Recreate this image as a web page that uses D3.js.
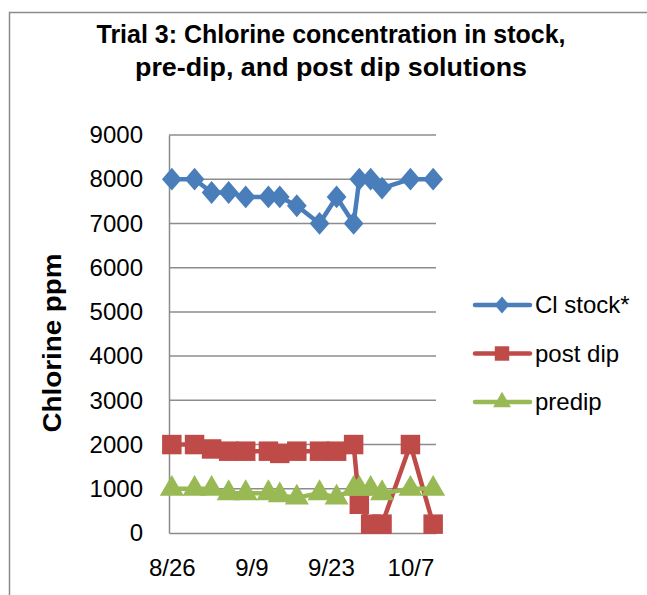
<!DOCTYPE html>
<html lang="en">
  <head>
    <meta charset="UTF-8" />
    <title>Trial 3 chlorine</title>
    <script src="https://cdn.jsdelivr.net/npm/d3@7/dist/d3.min.js"></script>
    <style>
      body { margin: 0; background: #fff; }
      text { font-family: "Liberation Sans", Arial, sans-serif; fill: #000; }
    </style>
  </head>
  <body>
    <div id="wrapper"></div>
    <script>
      // sample dates (m/d) and readings
      const dates = ["8/26", "8/30", "9/2", "9/5", "9/8", "9/12", "9/14", "9/17",
        "9/21", "9/24", "9/27", "9/28", "9/30", "10/2", "10/7", "10/11"];
      const clStock = [8000, 8000, 7700, 7700, 7600, 7600, 7600, 7400,
        7000, 7600, 7000, 8000, 8000, 7800, 8000, 8000];
      const postDip = [2000, 2000, 1900, 1850, 1850, 1850, 1800, 1850,
        1850, 1850, 2000, 650, 200, 200, 2000, 200];
      const preDip = [1000, 1000, 1000, 900, 900, 900, 850, 800,
        900, 800, 1000, 1000, 1000, 900, 1000, 1000];
      const seriesNames = ["Cl stock*", "post dip", "predip"];
      const xTickLabels = ["8/26", "9/9", "9/23", "10/7"];
      const yTicks = [0, 1000, 2000, 3000, 4000, 5000, 6000, 7000, 8000, 9000];

      const width = 647, height = 595;
      const plot = { left: 169, right: 436, top: 135, bottom: 533 };

      const parseDate = (s) => d3.timeParse("%Y/%m/%d")("2014/" + s);
      const halfDay = 12 * 3600 * 1000;

      const svg = d3.select("#wrapper").append("svg")
        .attr("width", width).attr("height", height);

      // chart border
      svg.append("rect")
        .attr("x", 9.5).attr("y", 12.5)
        .attr("width", 700).attr("height", 700)
        .attr("fill", "none").attr("stroke", "#8c8c8c").attr("stroke-width", 1.5);

      // title
      const title = svg.append("text")
        .attr("text-anchor", "middle")
        .style("font-weight", "bold").style("font-size", "25px");
      title.append("tspan").attr("x", 331).attr("y", 43)
        .attr("textLength", 469).attr("lengthAdjust", "spacingAndGlyphs")
        .text("Trial 3: Chlorine concentration in stock,");
      title.append("tspan").attr("x", 331).attr("y", 76)
        .attr("textLength", 392).attr("lengthAdjust", "spacingAndGlyphs")
        .text("pre-dip, and post dip solutions");

      const xScale = d3.scaleTime()
        .domain([new Date(parseDate("8/26") - halfDay), new Date(+parseDate("10/11") + halfDay)])
        .range([plot.left, plot.right]);
      const yScale = d3.scaleLinear()
        .domain([0, 9000])
        .range([plot.bottom, plot.top]);

      // gridlines
      svg.append("g").selectAll("line")
        .data(yTicks.filter((d) => d > 0))
        .join("line")
        .attr("x1", plot.left).attr("x2", plot.right)
        .attr("y1", (d) => yScale(d)).attr("y2", (d) => yScale(d))
        .attr("stroke", "#8c8c8c").attr("stroke-width", 1.5);

      // y axis
      const yAxis = svg.append("g")
        .attr("transform", `translate(${plot.left},0)`)
        .call(d3.axisLeft(yScale).tickValues(yTicks).tickFormat(d3.format("d"))
          .tickSize(0).tickPadding(26));
      yAxis.select(".domain").attr("stroke", "#8c8c8c").attr("stroke-width", 1.5);
      yAxis.selectAll("text")
        .style("font-size", "24px").style("font-family", "Liberation Sans, Arial, sans-serif");

      // x axis
      const xAxis = svg.append("g")
        .attr("transform", `translate(0,${plot.bottom})`)
        .call(d3.axisBottom(xScale)
          .tickValues(xTickLabels.map(parseDate))
          .tickFormat(d3.timeFormat("%-m/%-d"))
          .tickSize(0).tickPadding(26));
      xAxis.select(".domain").attr("stroke", "#8c8c8c").attr("stroke-width", 1.5);
      xAxis.selectAll("text")
        .style("font-size", "24px").style("font-family", "Liberation Sans, Arial, sans-serif");

      // y axis title
      svg.append("text")
        .attr("transform", "translate(61,343) rotate(-90)")
        .attr("text-anchor", "middle")
        .attr("textLength", 179).attr("lengthAdjust", "spacingAndGlyphs")
        .style("font-weight", "bold").style("font-size", "25px")
        .text("Chlorine ppm");

      const series = [
        { name: seriesNames[0], values: clStock, color: "#4a7ebb", marker: d3.symbolDiamond, size: 150 },
        { name: seriesNames[1], values: postDip, color: "#be4b48", marker: d3.symbolSquare, size: 380 },
        { name: seriesNames[2], values: preDip, color: "#98b954", marker: d3.symbolTriangle, size: 250 },
      ];

      const line = d3.line()
        .x((d, i) => xScale(parseDate(dates[i])))
        .y((d) => yScale(d));

      series.forEach((s) => {
        const g = svg.append("g");
        g.append("path")
          .attr("d", line(s.values))
          .attr("fill", "none")
          .attr("stroke", s.color)
          .attr("stroke-width", 4.5)
          .attr("stroke-linejoin", "round");
        g.selectAll("path.m")
          .data(s.values)
          .join("path")
          .attr("class", "m")
          .attr("d", d3.symbol(s.marker, s.size))
          .attr("transform", (d, i) => {
            const sx = s.marker === d3.symbolDiamond ? 1.5 : 1;
            return `translate(${xScale(parseDate(dates[i]))},${yScale(d)}) scale(${sx},1)`;
          })
          .attr("fill", s.color);
      });

      // legend
      const legend = svg.append("g");
      series.forEach((s, i) => {
        const y = 305 + i * 48.5;
        legend.append("line")
          .attr("x1", 475).attr("x2", 530).attr("y1", y).attr("y2", y)
          .attr("stroke", s.color).attr("stroke-width", 4.5).attr("stroke-linecap", "round");
        legend.append("path")
          .attr("d", d3.symbol(s.marker, s.size * 0.55))
          .attr("transform", `translate(502,${y}) scale(${s.marker === d3.symbolDiamond ? 1.5 : 1},1)`)
          .attr("fill", s.color);
        legend.append("text")
          .attr("x", 535).attr("y", y).attr("dy", "0.35em")
          .style("font-size", "24px")
          .text(s.name);
      });
    </script>
  </body>
</html>
